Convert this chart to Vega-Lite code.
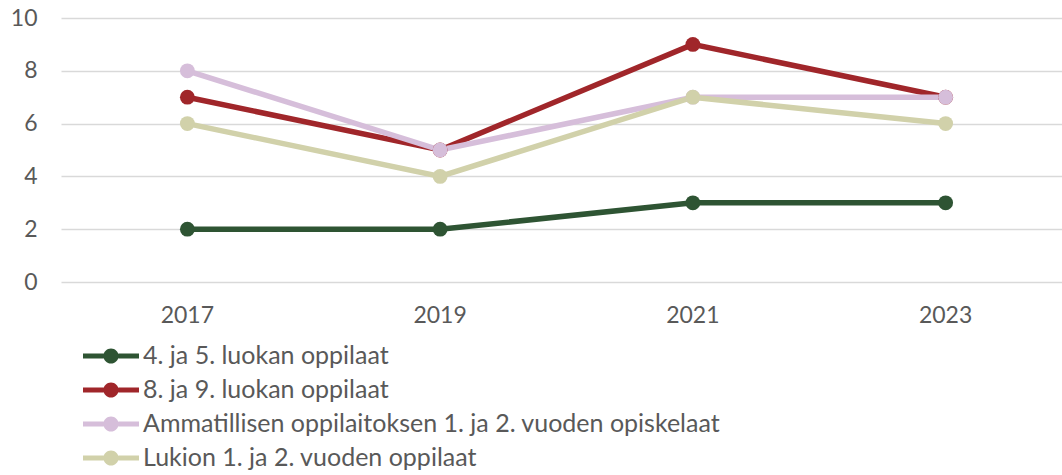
{
  "$schema": "https://vega.github.io/schema/vega-lite/v6.json",
  "autosize": "none",
  "padding": {"left": 61, "top": 18, "right": 0, "bottom": 193},
  "width": 1011,
  "height": 264,
  "background": "white",
  "config": {
    "view": {"stroke": null},
    "font": "Lato",
    "axis": {"labelFont": "Lato", "labelColor": "#595959", "labelFontSize": 23, "domain": false, "ticks": false, "tickSize": 0, "title": null},
    "legend": {"labelFont": "Lato", "labelColor": "#595959", "labelFontSize": 25}
  },
  "data": {
    "values": [
      {"year": "2017", "series": "4. ja 5. luokan oppilaat", "value": 2},
      {"year": "2019", "series": "4. ja 5. luokan oppilaat", "value": 2},
      {"year": "2021", "series": "4. ja 5. luokan oppilaat", "value": 3},
      {"year": "2023", "series": "4. ja 5. luokan oppilaat", "value": 3},
      {"year": "2017", "series": "8. ja 9. luokan oppilaat", "value": 7},
      {"year": "2019", "series": "8. ja 9. luokan oppilaat", "value": 5},
      {"year": "2021", "series": "8. ja 9. luokan oppilaat", "value": 9},
      {"year": "2023", "series": "8. ja 9. luokan oppilaat", "value": 7},
      {"year": "2017", "series": "Ammatillisen oppilaitoksen 1. ja 2. vuoden opiskelaat", "value": 8},
      {"year": "2019", "series": "Ammatillisen oppilaitoksen 1. ja 2. vuoden opiskelaat", "value": 5},
      {"year": "2021", "series": "Ammatillisen oppilaitoksen 1. ja 2. vuoden opiskelaat", "value": 7},
      {"year": "2023", "series": "Ammatillisen oppilaitoksen 1. ja 2. vuoden opiskelaat", "value": 7},
      {"year": "2017", "series": "Lukion 1. ja 2. vuoden oppilaat", "value": 6},
      {"year": "2019", "series": "Lukion 1. ja 2. vuoden oppilaat", "value": 4},
      {"year": "2021", "series": "Lukion 1. ja 2. vuoden oppilaat", "value": 7},
      {"year": "2023", "series": "Lukion 1. ja 2. vuoden oppilaat", "value": 6}
    ]
  },
  "mark": {"type": "line", "strokeWidth": 5.5, "point": {"filled": true, "size": 220, "opacity": 1}},
  "encoding": {
    "x": {
      "field": "year", "type": "ordinal",
      "scale": {"type": "band", "paddingInner": 0, "paddingOuter": 0},
      "axis": {"labelAngle": 0, "labelPadding": 22, "grid": false}
    },
    "y": {
      "field": "value", "type": "quantitative",
      "scale": {"domain": [0, 10], "nice": false},
      "axis": {"values": [0, 2, 4, 6, 8, 10], "grid": true, "gridColor": "#D9D9D9", "gridWidth": 1.5, "labelPadding": 24}
    },
    "color": {
      "field": "series", "type": "nominal",
      "scale": {
        "domain": ["4. ja 5. luokan oppilaat", "8. ja 9. luokan oppilaat", "Ammatillisen oppilaitoksen 1. ja 2. vuoden opiskelaat", "Lukion 1. ja 2. vuoden oppilaat"],
        "range": ["#2E5433", "#A0262A", "#D6BEDA", "#D1D1AA"]
      },
      "legend": {
        "orient": "none",
        "legendX": 22,
        "legendY": 321,
        "direction": "vertical",
        "title": null,
        "padding": 0,
        "symbolType": "M-1,-0.09H-0.26V0.09H-1Z M0.26,-0.09H1V0.09H0.26Z M0.27,0A0.27,0.27,0,1,1,-0.27,0A0.27,0.27,0,1,1,0.27,0Z",
        "symbolSize": 3136,
        "symbolStrokeWidth": 0,
        "labelOffset": 4,
        "labelLimit": 0,
        "clipHeight": 34,
        "rowPadding": 0,
        "encode": {"symbols": {"update": {"fill": {"scale": "color", "field": "value"}, "fillOpacity": {"value": 1}}}}
      }
    }
  }
}
